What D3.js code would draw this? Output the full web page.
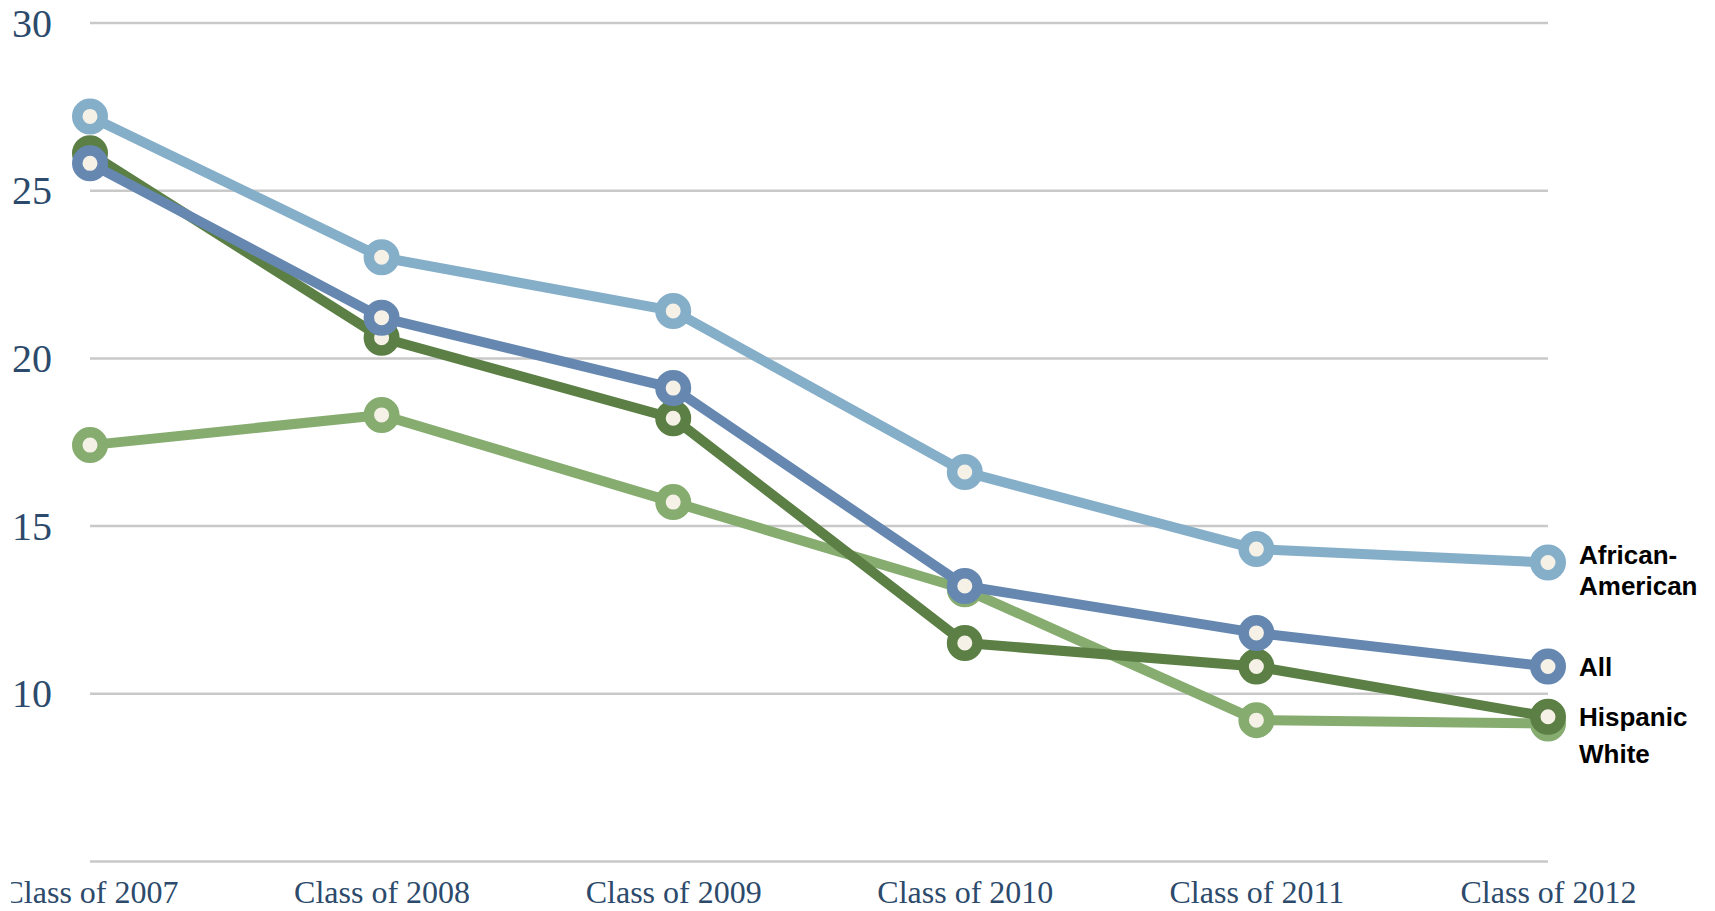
<!DOCTYPE html>
<html><head><meta charset="utf-8">
<script src="https://cdn.jsdelivr.net/npm/d3@7"></script>
<style>
html,body{margin:0;padding:0;background:#fff;}
svg{display:block;}
</style></head>
<body>
<svg id="chart" width="1715" height="911"></svg>
<script>
const categories = ["Class of 2007","Class of 2008","Class of 2009","Class of 2010","Class of 2011","Class of 2012"];
const seriesNames = ["White","Hispanic","All","African-American"];
const whiteValues = [17.4, 18.3, 15.7, 13.1, 9.2, 9.1];
const hispanicValues = [26.1, 20.6, 18.2, 11.5, 10.8, 9.3];
const allValues = [25.8, 21.2, 19.1, 13.2, 11.8, 10.8];
const africanAmericanValues = [27.2, 23.0, 21.4, 16.6, 14.3, 13.9];
const yTicks = [5, 10, 15, 20, 25, 30];
const labelLines = {
  "African-American": ["African-", "American"],
  "All": ["All"],
  "Hispanic": ["Hispanic"],
  "White": ["White"]
};

const colors = {
  "White": "#86ac70",
  "Hispanic": "#5b7f44",
  "All": "#6688b0",
  "African-American": "#85aec9"
};
const labelOffsets = { "African-American": -8, "All": 0, "Hispanic": 0, "White": 30 };
const valuesBy = {
  "White": whiteValues,
  "Hispanic": hispanicValues,
  "All": allValues,
  "African-American": africanAmericanValues
};

const svg = d3.select("#chart");
const mLeft = 90, mRight = 1548, mTop = 22.5, mBottom = 861;

const x = d3.scalePoint().domain(categories).range([mLeft, mRight]);
const y = d3.scaleLinear().domain([5, 30]).range([mBottom, mTop]);

const textColor = "#2c4a6b";

// y axis + grid
const yAxis = svg.append("g").attr("transform", `translate(${mLeft},0)`)
  .call(d3.axisLeft(y).tickValues(yTicks).tickSizeInner(-(mRight-mLeft)).tickSizeOuter(0)
    .tickPadding(38).tickFormat(d => d === 5 ? "" : d));
yAxis.select(".domain").remove();
yAxis.selectAll(".tick line").attr("stroke", "#c9c9c9").attr("stroke-width", 2.5);
yAxis.selectAll(".tick text").attr("fill", textColor)
  .style("font-family", "'Liberation Serif', 'DejaVu Serif', serif").style("font-size", "40px")
  .attr("dy", "0.34em");

// x axis
svg.append("defs").append("clipPath").attr("id", "xclip")
  .append("rect").attr("x", 11).attr("y", 0).attr("width", 1715).attr("height", 911);
const xAxis = svg.append("g").attr("transform", `translate(0,${mBottom})`)
  .attr("clip-path", "url(#xclip)")
  .call(d3.axisBottom(x).tickSize(0).tickPadding(19));
xAxis.select(".domain").remove();
xAxis.selectAll(".tick text").attr("fill", textColor)
  .style("font-family", "'Liberation Serif', 'DejaVu Serif', serif").style("font-size", "32px");

const line = d3.line().x((d, i) => x(categories[i])).y(d => y(d));

seriesNames.forEach(name => {
  const vals = valuesBy[name];
  const g = svg.append("g");
  g.append("path").datum(vals).attr("d", line)
    .attr("fill", "none").attr("stroke", colors[name]).attr("stroke-width", 10)
    .attr("stroke-linejoin", "round");
  g.selectAll("circle").data(vals).join("circle")
    .attr("cx", (d, i) => x(categories[i])).attr("cy", d => y(d))
    .attr("r", 12.75).attr("fill", "#f6f1e7")
    .attr("stroke", colors[name]).attr("stroke-width", 10.5);
});

// end labels
seriesNames.forEach(name => {
  const vals = valuesBy[name];
  const yy = y(vals[vals.length - 1]) + labelOffsets[name];
  const t = svg.append("text").attr("x", 1579).attr("y", yy)
    .attr("fill", "#000")
    .style("font-family", "'Liberation Sans', Arial, sans-serif")
    .style("font-size", "26px").style("font-weight", "bold");
  labelLines[name].forEach((ln, i) => {
    t.append("tspan").attr("x", 1579).attr("dy", i === 0 ? "0.36em" : "1.18em").text(ln);
  });
});
</script>
</body></html>
